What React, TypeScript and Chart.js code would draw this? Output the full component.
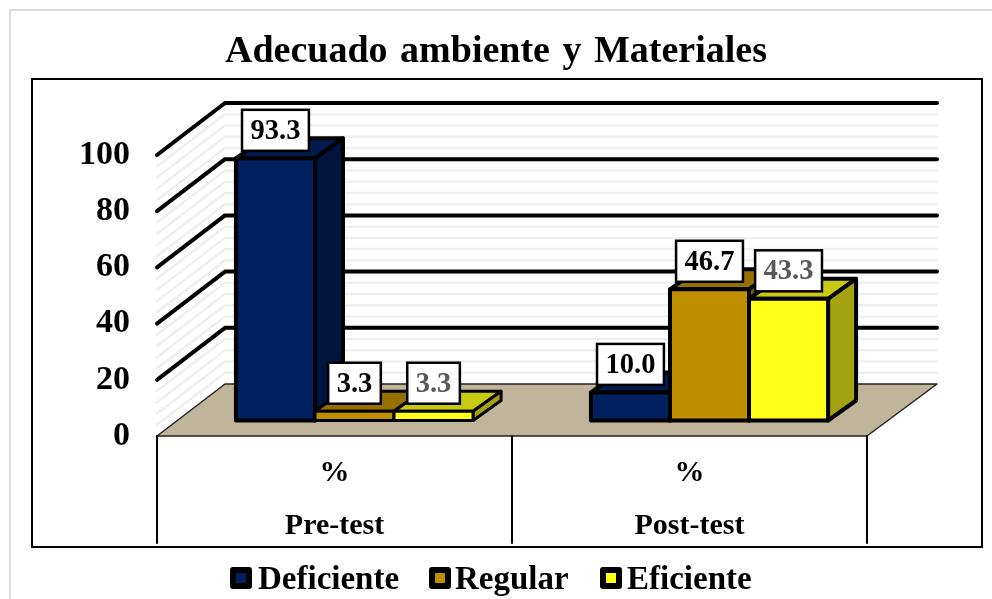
import React, { useEffect, useRef } from "react";
import { Chart, registerables } from "chart.js";

Chart.register(...registerables);

const categories = [["%", "Pre-test"], ["%", "Post-test"]];
const deficiente = [93.3, 10.0];
const regular = [3.3, 46.7];
const eficiente = [3.3, 43.3];
const seriesNames = ["Deficiente", "Regular", "Eficiente"];
const frontColors = ["#002060", "#BF8F00", "#FFFF1A"];
const topColors = ["#001A4E", "#957000", "#C9C914"];
const sideColors = ["#001440", "#7F6000", "#A3A312"];
const labelColors = ["#000000", "#000000", "#595959"];
const yTicks = [0, 20, 40, 60, 80, 100];
const minorTicks = [4, 8, 12, 16, 24, 28, 32, 36, 44, 48, 52, 56, 64, 68, 72, 76, 84, 88, 92, 96];

const SERIF = "'Liberation Serif', 'Times New Roman', serif";
const WALL = { dx: 68, dy: -52 };
const BAR_OFFSET = { dx: 20, dy: -15.5 };
const BAR_DEPTH = { dx: 28, dy: -20 };
const LEGEND_MARKER_X = [230, 429, 600];
const LEGEND_TEXT_X = [258, 455, 627];

const scene3d = {
  id: "scene3d",
  beforeUpdate(chart: any) {
    chart.ctx.wordSpacing = "3px";
  },
  beforeDraw(chart: any) {
    const { ctx, width, height } = chart;
    ctx.wordSpacing = "3px";
    ctx.save();
    ctx.fillStyle = "#ffffff";
    ctx.fillRect(0, 0, width, height);
    ctx.strokeStyle = "#DADADA";
    ctx.lineWidth = 2;
    ctx.beginPath();
    ctx.moveTo(width, 10);
    ctx.lineTo(10, 10);
    ctx.lineTo(10, height);
    ctx.stroke();
    ctx.strokeStyle = "#000000";
    ctx.lineWidth = 2;
    ctx.strokeRect(32, 79, 950, 468);
    ctx.restore();
  },
  beforeDatasetsDraw(chart: any) {
    const { ctx, scales } = chart;
    const y = scales.y;
    const x = scales.x;
    const L = x.left;
    const R = x.right;
    const wallLine = (v: number) => {
      const py = y.getPixelForValue(v);
      ctx.beginPath();
      ctx.moveTo(L, py);
      ctx.lineTo(L + WALL.dx, py + WALL.dy);
      ctx.lineTo(R + WALL.dx + 2, py + WALL.dy);
      ctx.stroke();
    };
    ctx.save();
    ctx.lineCap = "round";
    ctx.lineJoin = "round";
    ctx.strokeStyle = "#EFEFEF";
    ctx.lineWidth = 2.5;
    minorTicks.forEach(wallLine);
    ctx.strokeStyle = "#000000";
    ctx.lineWidth = 4;
    yTicks.filter((v) => v > 0).forEach(wallLine);

    const y0 = y.getPixelForValue(0);
    ctx.beginPath();
    ctx.moveTo(L, y0);
    ctx.lineTo(L + WALL.dx, y0 + WALL.dy);
    ctx.lineTo(R + WALL.dx + 2, y0 + WALL.dy);
    ctx.lineTo(R, y0);
    ctx.closePath();
    ctx.fillStyle = "#C0B59B";
    ctx.fill();
    ctx.strokeStyle = "#222222";
    ctx.lineWidth = 1.5;
    ctx.stroke();

    const mid = (x.getPixelForValue(0) + x.getPixelForValue(1)) / 2;
    ctx.strokeStyle = "#000000";
    ctx.lineWidth = 2;
    [L, mid, R].forEach((px) => {
      ctx.beginPath();
      ctx.moveTo(px, y0);
      ctx.lineTo(px, y0 + 107);
      ctx.stroke();
    });
    ctx.restore();
  },
  beforeDatasetDraw() {
    return false;
  },
  afterDatasetsDraw(chart: any) {
    const { ctx } = chart;
    const metas = chart.getSortedVisibleDatasetMetas();
    ctx.save();
    ctx.translate(BAR_OFFSET.dx, BAR_OFFSET.dy);
    metas.forEach((meta: any, si: number) => {
      const values = chart.data.datasets[meta.index].data;
      meta.data.forEach((el: any, i: number) => {
        const l = el.x - el.width / 2;
        const r = el.x + el.width / 2;
        const t = el.y;
        const b = el.base;
        const lw = values[i] < 5 ? 3 : 4;
        ctx.lineWidth = lw;
        ctx.strokeStyle = "#000000";
        ctx.lineJoin = "round";
        ctx.beginPath();
        ctx.moveTo(l, t);
        ctx.lineTo(l + BAR_DEPTH.dx, t + BAR_DEPTH.dy);
        ctx.lineTo(r + BAR_DEPTH.dx, t + BAR_DEPTH.dy);
        ctx.lineTo(r, t);
        ctx.closePath();
        ctx.fillStyle = topColors[si];
        ctx.fill();
        ctx.stroke();
        ctx.beginPath();
        ctx.moveTo(r, t);
        ctx.lineTo(r + BAR_DEPTH.dx, t + BAR_DEPTH.dy);
        ctx.lineTo(r + BAR_DEPTH.dx, b + BAR_DEPTH.dy);
        ctx.lineTo(r, b);
        ctx.closePath();
        ctx.fillStyle = sideColors[si];
        ctx.fill();
        ctx.stroke();
        el.draw(ctx);
        ctx.strokeRect(l, t, r - l, b - t);
      });
    });
    ctx.restore();

    ctx.save();
    ctx.font = `bold 28.5px ${SERIF}`;
    ctx.textAlign = "center";
    ctx.textBaseline = "middle";
    metas.forEach((meta: any, si: number) => {
      const values = chart.data.datasets[meta.index].data;
      meta.data.forEach((el: any, i: number) => {
        const text = Number(values[i]).toFixed(1);
        const w = ctx.measureText(text).width + 17;
        const h = 41;
        const cx = el.x + BAR_OFFSET.dx;
        const bottom = el.y + BAR_OFFSET.dy - 7.5;
        ctx.fillStyle = "#ffffff";
        ctx.strokeStyle = "#000000";
        ctx.lineWidth = 2.5;
        ctx.fillRect(cx - w / 2, bottom - h, w, h);
        ctx.strokeRect(cx - w / 2, bottom - h, w, h);
        ctx.fillStyle = labelColors[si];
        ctx.fillText(text, cx, bottom - h / 2 + 1);
      });
    });
    ctx.restore();
  },
  afterDraw(chart: any) {
    const { ctx } = chart;
    ctx.save();
    ctx.font = `bold 33px ${SERIF}`;
    ctx.textAlign = "left";
    ctx.textBaseline = "alphabetic";
    chart.data.datasets.forEach((ds: any, i: number) => {
      const mx = LEGEND_MARKER_X[i];
      ctx.fillStyle = "#000000";
      ctx.beginPath();
      ctx.roundRect(mx, 567, 22, 22, 3);
      ctx.fill();
      ctx.fillStyle = frontColors[i];
      ctx.fillRect(mx + 6, 573, 10, 10);
      ctx.fillStyle = "#000000";
      ctx.fillText(ds.label, LEGEND_TEXT_X[i], 589);
    });
    ctx.restore();
  },
};

export default function App() {
  const ref = useRef<HTMLCanvasElement>(null);
  useEffect(() => {
    const seriesValues = [deficiente, regular, eficiente];
    const chart = new Chart(ref.current as HTMLCanvasElement, {
      type: "bar",
      data: {
        labels: categories as any,
        datasets: seriesNames.map((name, i) => ({
          label: name,
          data: seriesValues[i],
          backgroundColor: frontColors[i],
          borderColor: "#000000",
          borderWidth: 0,
          barPercentage: 1,
          categoryPercentage: 0.668,
          yAxisID: "y",
        })),
      } as any,
      options: {
        responsive: false,
        animation: false,
        events: [],
        layout: { padding: { left: 0, right: 0, top: 0, bottom: 50 } },
        plugins: {
          tooltip: { enabled: false },
          legend: { display: false },
          title: {
            display: true,
            text: "Adecuado ambiente y Materiales",
            color: "#000000",
            font: { family: SERIF, size: 38, weight: "bold" },
            padding: { top: 29, bottom: 80.4 },
          },
        },
        scales: {
          x: {
            grid: { display: false },
            border: { display: false },
            afterFit: (s: any) => {
              s.height = 113;
            },
            ticks: {
              color: "#000000",
              padding: 3,
              maxRotation: 0,
              font: { family: SERIF, size: 30, weight: "bold", lineHeight: 1.77 },
            },
          },
          y: {
            min: 0,
            max: 100,
            grid: { display: false },
            border: { display: false },
            afterFit: (s: any) => {
              s.width = 157;
            },
            ticks: {
              stepSize: 20,
              color: "#000000",
              padding: 19,
              font: { family: SERIF, size: 34, weight: "bold" },
            },
          },
          spacer: {
            position: "right",
            grid: { display: false },
            border: { display: false },
            ticks: { display: false },
            afterFit: (s: any) => {
              s.width = 125;
            },
          },
        },
      },
      plugins: [scene3d as any],
    } as any);
    return () => chart.destroy();
  }, []);
  return (
    <canvas
      ref={ref}
      width={992}
      height={599}
      style={{ position: "absolute", left: 0, top: 0, width: 992, height: 599, display: "block" }}
    />
  );
}
